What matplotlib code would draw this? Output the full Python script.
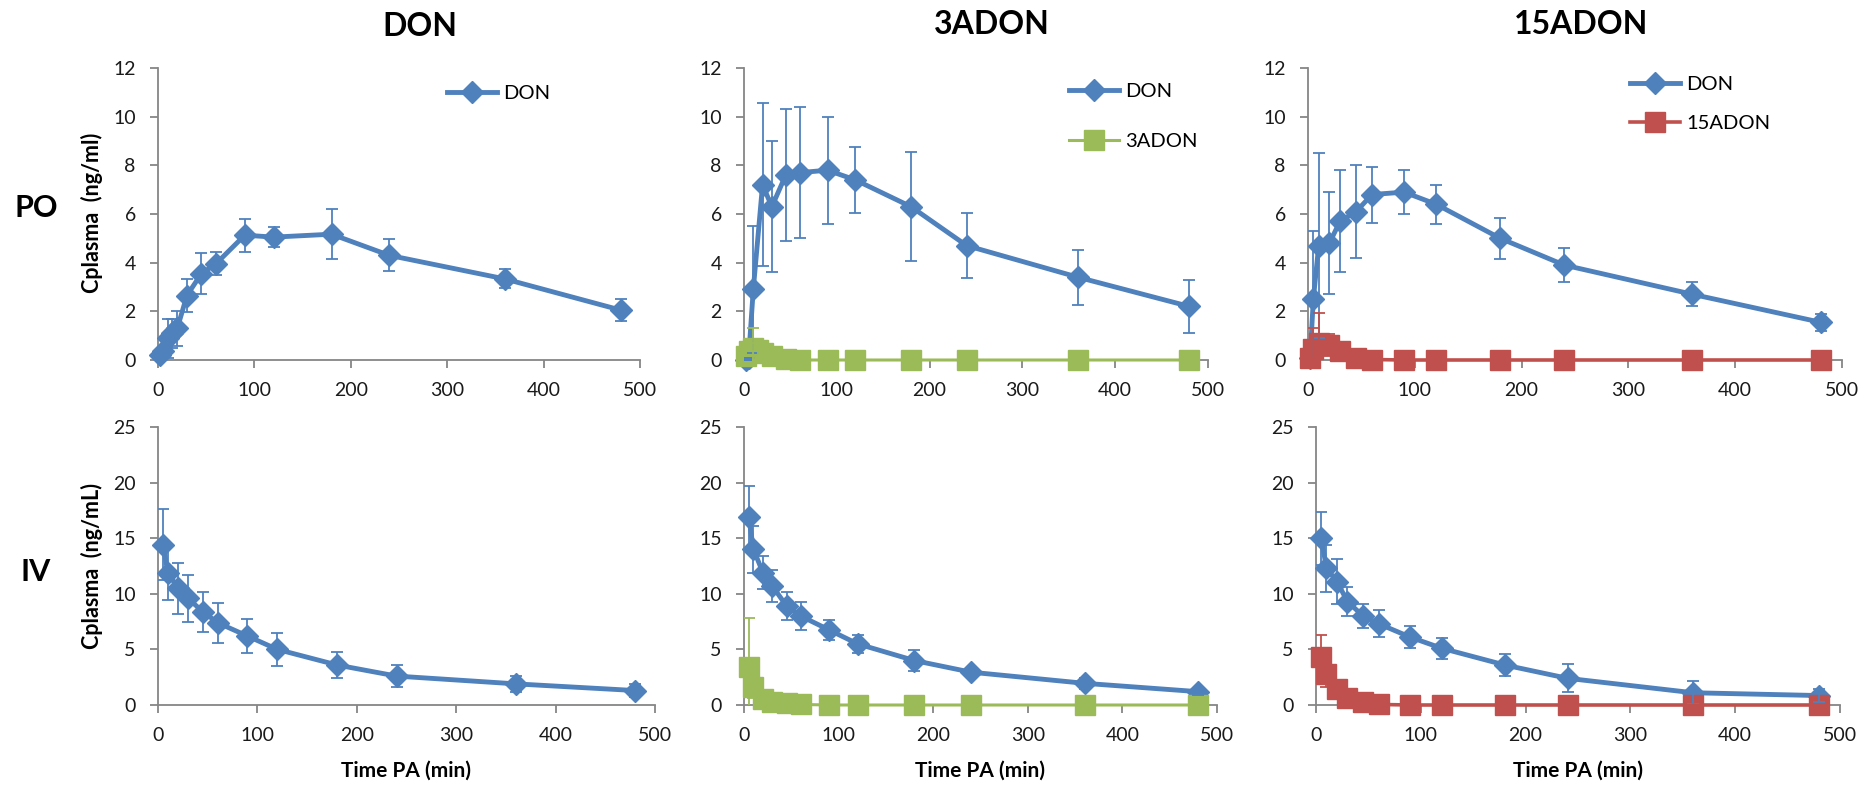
import matplotlib
matplotlib.use("Agg")
import matplotlib.pyplot as plt

plt.rcParams['font.family'] = ['Lato', 'DejaVu Sans']

W, H = 1865, 788

BLUE = "#4F81BD"
GREEN = "#9BBB59"
RED = "#C0504D"
SPINE = "#868686"

# ---- PO (oral) ----
po_don_t = [2, 5, 10, 15, 20, 30, 45, 60, 90, 120, 180, 240, 360, 480]
po_don_v = [0.2, 0.35, 0.9, 1.1, 1.3, 2.65, 3.55, 3.95, 5.13, 5.05, 5.17, 4.3, 3.33, 2.05]
po_don_e = [0.1, 0.2, 0.8, 0.6, 0.72, 0.68, 0.85, 0.47, 0.68, 0.4, 1.03, 0.66, 0.39, 0.45]

po3_don_t = [2, 5, 10, 20, 30, 45, 60, 90, 120, 180, 240, 360, 480]
po3_don_v = [0.0, 0.1, 2.9, 7.2, 6.3, 7.6, 7.7, 7.8, 7.4, 6.3, 4.7, 3.4, 2.2]
po3_don_e = [0.0, 0.0, 2.6, 3.35, 2.7, 2.7, 2.7, 2.2, 1.35, 2.25, 1.35, 1.13, 1.1]
po3_ac_t = [2, 5, 10, 15, 20, 30, 45, 60, 90, 120, 180, 240, 360, 480]
po3_ac_v = [0.15, 0.35, 0.5, 0.4, 0.3, 0.15, 0.05, 0.0, 0.0, 0.0, 0.0, 0.0, 0.0, 0.0]
po3_ac_e = [0.0, 0.0, 0.8, 0.3, 0.2, 0.1, 0.0, 0.0, 0.0, 0.0, 0.0, 0.0, 0.0, 0.0]

po15_t = [2, 5, 10, 20, 30, 45, 60, 90, 120, 180, 240, 360, 480]
po15_don_v = [0.1, 2.5, 4.7, 4.8, 5.7, 6.1, 6.8, 6.9, 6.4, 5.0, 3.9, 2.7, 1.55]
po15_don_e = [0.0, 2.8, 3.8, 2.1, 2.1, 1.9, 1.15, 0.9, 0.8, 0.85, 0.7, 0.5, 0.35]
po15_ac_v = [0.1, 0.45, 0.7, 0.6, 0.35, 0.1, 0.02, 0.0, 0.0, 0.0, 0.0, 0.0, 0.0]
po15_ac_e = [0.0, 0.85, 1.25, 0.45, 0.3, 0.1, 0.0, 0.0, 0.0, 0.0, 0.0, 0.0, 0.0]

# ---- IV ----
iv_t = [5, 10, 20, 30, 45, 60, 90, 120, 180, 240, 360, 480]
iv_don_v = [14.4, 11.9, 10.5, 9.6, 8.4, 7.4, 6.2, 5.0, 3.6, 2.6, 1.9, 1.3]
iv_don_e = [3.2, 2.5, 2.3, 2.1, 1.8, 1.8, 1.55, 1.45, 1.2, 1.0, 0.7, 0.6]

iv3_don_v = [16.9, 14.0, 11.9, 10.7, 8.9, 8.0, 6.75, 5.5, 4.0, 2.95, 1.95, 1.2]
iv3_don_e = [2.8, 2.1, 1.5, 1.4, 1.3, 1.3, 0.9, 0.8, 0.95, 0.3, 0.5, 0.3]
iv3_ac_v = [3.4, 1.6, 0.5, 0.3, 0.15, 0.05, 0.0, 0.0, 0.0, 0.0, 0.0, 0.0]
iv3_ac_e = [4.4, 1.0, 0.3, 0.2, 0.1, 0.0, 0.0, 0.0, 0.0, 0.0, 0.0, 0.0]

iv15_don_v = [15.0, 12.3, 11.1, 9.3, 8.0, 7.3, 6.1, 5.1, 3.6, 2.4, 1.1, 0.85]
iv15_don_e = [2.4, 2.1, 2.0, 1.3, 1.1, 1.2, 1.0, 0.95, 0.95, 1.25, 1.05, 0.6]
iv15_ac_v = [4.3, 2.8, 1.4, 0.6, 0.25, 0.05, 0.0, 0.0, 0.0, 0.0, 0.0, 0.0]
iv15_ac_e = [2.0, 1.2, 0.4, 0.2, 0.1, 0.0, 0.0, 0.0, 0.0, 0.0, 0.0, 0.0]

col_titles = ["DON", "3ADON", "15ADON"]
row_titles = ["PO", "IV"]


def px_axes(fig, x0, x1, ytop, ybot):
    return fig.add_axes([x0 / W, 1 - ybot / H, (x1 - x0) / W, (ybot - ytop) / H])


def style_axes(ax, ymax, ystep):
    ax.set_xlim(0, 500)
    ax.set_ylim(0, ymax)
    ax.set_xticks(range(0, 501, 100))
    ax.set_yticks(range(0, ymax + 1, ystep))
    for s in ("top", "right"):
        ax.spines[s].set_visible(False)
    for s in ("left", "bottom"):
        ax.spines[s].set_color(SPINE)
        ax.spines[s].set_linewidth(1.3)
    ax.tick_params(direction="out", length=6, width=1.3, color=SPINE,
                   labelsize=14, labelcolor="#1a1a1a")
    ax.tick_params(axis="y", pad=10)
    ax.tick_params(axis="x", pad=10)


def draw(ax, t, v, e, color, marker, ms, lw, label):
    line, = ax.plot(t, v, color=color, marker=marker, markersize=ms, lw=lw,
                    label=label, clip_on=False, zorder=3)
    ax.errorbar(t, v, yerr=e, fmt="none", ecolor=color, elinewidth=1.3,
                capsize=4.5, capthick=1.3, zorder=4)
    return line


fig = plt.figure(figsize=(W / 100, H / 100), dpi=100)

row1 = [(158, 640), (744, 1208), (1308, 1842)]
row2 = [(158, 655), (744, 1217), (1316, 1840)]

axes_top = [px_axes(fig, a, b, 68, 360) for a, b in row1]
axes_bot = [px_axes(fig, a, b, 427, 705) for a, b in row2]

for ax in axes_top:
    style_axes(ax, 12, 2)
for ax in axes_bot:
    style_axes(ax, 25, 5)

D_MS, S_MS = 11, 14
leg_kw = dict(loc="upper left", frameon=False, fontsize=14.5, bbox_transform=fig.transFigure,
              borderaxespad=0, borderpad=0, handlelength=2.5, handletextpad=0.3)

# PO row
h1 = draw(axes_top[0], po_don_t, po_don_v, po_don_e, BLUE, "D", D_MS, 3.5, "DON")
axes_top[0].legend(handles=[h1], bbox_to_anchor=(447 / W, 1 - 85 / H), **leg_kw)

h2 = draw(axes_top[1], po3_don_t, po3_don_v, po3_don_e, BLUE, "D", D_MS, 3.5, "DON")
h3 = draw(axes_top[1], po3_ac_t, po3_ac_v, po3_ac_e, GREEN, "s", S_MS, 2.2, "3ADON")
axes_top[1].legend(handles=[h2, h3], bbox_to_anchor=(1069 / W, 1 - 83 / H),
                   labelspacing=1.65, **leg_kw)

h4 = draw(axes_top[2], po15_t, po15_don_v, po15_don_e, BLUE, "D", D_MS, 3.5, "DON")
h5 = draw(axes_top[2], po15_t, po15_ac_v, po15_ac_e, RED, "s", S_MS, 2.6, "15ADON")
axes_top[2].legend(handles=[h4, h5], bbox_to_anchor=(1630 / W, 1 - 76 / H),
                   labelspacing=1.1, **leg_kw)

# IV row
draw(axes_bot[0], iv_t, iv_don_v, iv_don_e, BLUE, "D", D_MS, 3.5, "DON")
draw(axes_bot[1], iv_t, iv3_don_v, iv3_don_e, BLUE, "D", D_MS, 3.5, "DON")
draw(axes_bot[1], iv_t, iv3_ac_v, iv3_ac_e, GREEN, "s", S_MS, 2.2, "3ADON")
draw(axes_bot[2], iv_t, iv15_don_v, iv15_don_e, BLUE, "D", D_MS, 3.5, "DON")
draw(axes_bot[2], iv_t, iv15_ac_v, iv15_ac_e, RED, "s", S_MS, 2.6, "15ADON")

# labels
fig.text(92 / W, 1 - 213 / H, "Cplasma  (ng/ml)", rotation=90, ha="center", va="center",
         fontsize=15.5, fontweight="bold")
fig.text(92 / W, 1 - 566 / H, "Cplasma  (ng/mL)", rotation=90, ha="center", va="center",
         fontsize=15.5, fontweight="bold")
for (a, b) in row2:
    fig.text((a + b) / 2 / W, 1 - 771 / H, "Time PA (min)", ha="center", va="center",
             fontsize=15, fontweight="bold")

for txt, x, y in zip(col_titles, [420, 992, 1581], [27, 24, 24]):
    fig.text(x / W, 1 - y / H, txt, ha="center", va="center", fontsize=23, fontweight="bold")
for txt, y in zip(row_titles, [208, 572]):
    fig.text(36 / W, 1 - y / H, txt, ha="center", va="center", fontsize=22, fontweight="bold")

fig.savefig("out.png", dpi=100)
